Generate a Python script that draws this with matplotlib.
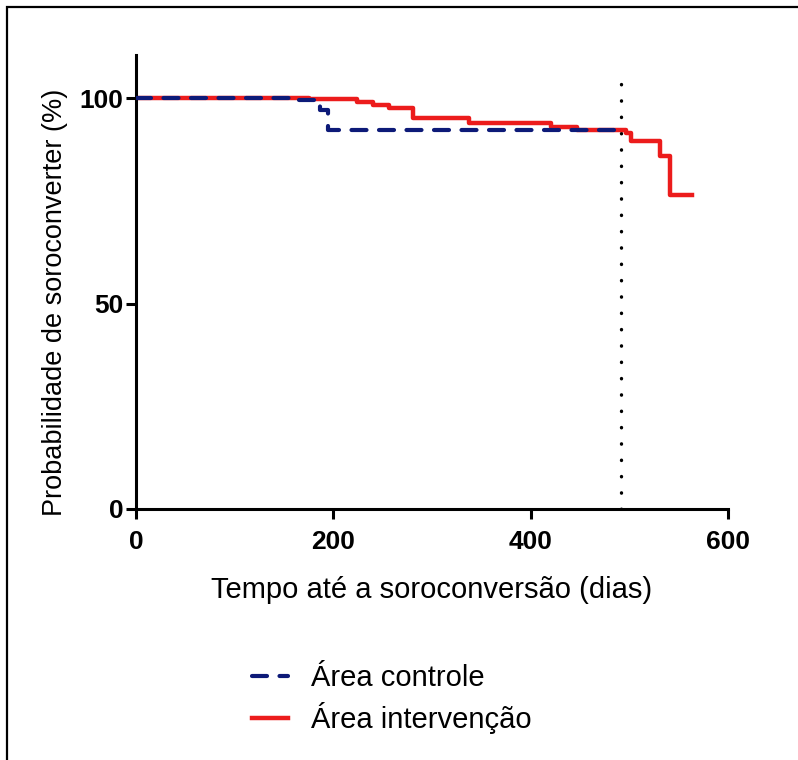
import matplotlib.pyplot as plt
from matplotlib.patches import Rectangle

# Kaplan-Meier style step data (days, % not seroconverted)
controle_dias = [0, 160, 186, 195, 488]
controle_prob = [100, 99.5, 97.0, 92.3, 92.3]

intervencao_dias = [0, 175, 224, 240, 256, 281, 338, 421, 447, 497, 502, 531, 541, 564]
intervencao_prob = [100, 99.7, 99.0, 98.3, 97.5, 95.1, 93.9, 92.9, 92.2, 91.5, 89.5, 85.9, 76.4, 76.4]

corte_dias = 492

x_ticks = [0, 200, 400, 600]
y_ticks = [0, 50, 100]

plt.rcParams['font.family'] = ['Liberation Sans', 'DejaVu Sans']

fig = plt.figure(figsize=(7.98, 7.6), dpi=100)
ax = fig.add_axes([0.1704, 0.3303, 0.7419, 0.5973])

ax.step(intervencao_dias, intervencao_prob, where='post', color='#ec1c1c',
        lw=3.2, label='Área intervenção', zorder=2)
ax.step(controle_dias, controle_prob, where='post', color='#0d1a78',
        lw=3.0, linestyle=(0, (3.6, 3.0)), dash_capstyle='round',
        label='Área controle', zorder=3)
ax.plot([corte_dias, corte_dias], [0, 107], color='black', lw=2.4,
        linestyle=(0, (0.1, 4.8)), dash_capstyle='round', zorder=1)

ax.set_xlim(0, 600)
ax.set_ylim(0, 110.5)
ax.set_xticks(x_ticks)
ax.set_yticks(y_ticks)
ax.spines['top'].set_visible(False)
ax.spines['right'].set_visible(False)
for s in ['left', 'bottom']:
    ax.spines[s].set_linewidth(2.2)
ax.spines['bottom'].set_bounds(0, 600)
ax.tick_params(width=2.2, length=7, direction='out')
ax.tick_params(axis='x', pad=8)
ax.tick_params(axis='y', pad=2)
for lab in ax.get_xticklabels() + ax.get_yticklabels():
    lab.set_family(['Liberation Sans Narrow', 'Liberation Sans'])
    lab.set_fontweight('bold')
    lab.set_fontsize(19)

ax.set_xlabel('Tempo até a soroconversão (dias)', fontsize=21, labelpad=16)
ax.set_ylabel('Probabilidade de soroconverter (%)', fontsize=19.5, labelpad=8)
ax.yaxis.label.set_y(0.456)

handles, labels = ax.get_legend_handles_labels()
fig.legend(handles[::-1], labels[::-1], loc='center', bbox_to_anchor=(0.491, 0.08),
           frameon=False, fontsize=21, handlelength=1.25, handletextpad=0.8,
           labelspacing=0.35)

fig.patches.append(Rectangle((0.0088, -0.5), 2, 0.9908 + 0.5, transform=fig.transFigure,
                             fill=False, edgecolor='black', lw=1.6))

fig.savefig('out.png', dpi=100, facecolor='white')
